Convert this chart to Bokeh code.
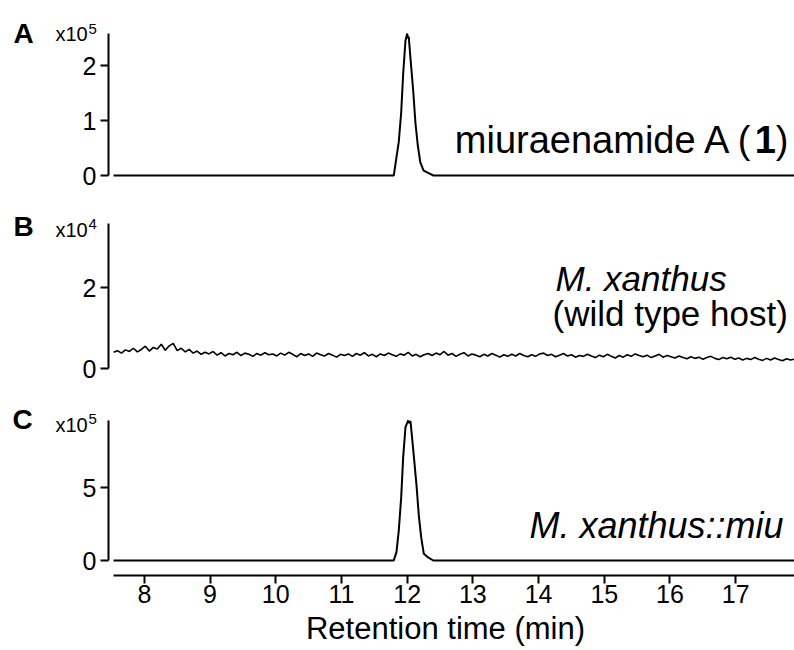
import numpy as np
from bokeh.plotting import figure
from bokeh.models import Label, FixedTicker, Range1d, LinearAxis
from bokeh.embed import file_html
from bokeh.resources import INLINE

# ---------------- data ----------------
# Panel A: miuraenamide A standard, intensity in units of 1e5
time_a = [7.53, 11.796, 11.822, 11.872, 11.909, 11.939, 11.974, 12.0, 12.012, 12.024,
          12.05, 12.091, 12.126, 12.161, 12.2, 12.25, 12.35, 12.40, 17.895]
int_a = [0, 0, 0.21, 0.61, 1.15, 1.85, 2.45, 2.58, 2.50, 2.52,
         2.13, 1.55, 0.95, 0.55, 0.24, 0.09, 0.03, 0, 0]

# Panel B: M. xanthus wild type host, intensity in units of 1e4 (noise trace)
noise_b = [0.40, 0.44, 0.38, 0.46, 0.42, 0.50, 0.41, 0.47, 0.55, 0.43, 0.52, 0.48, 0.60, 0.45, 0.56, 0.62, 0.44, 0.50, 0.41, 0.47,
           0.38, 0.43, 0.35, 0.40, 0.36, 0.42, 0.33, 0.39, 0.31, 0.37, 0.34, 0.40, 0.32, 0.38, 0.35, 0.30, 0.37, 0.33, 0.39, 0.34,
           0.36, 0.31, 0.38, 0.33, 0.40, 0.35, 0.29, 0.37, 0.32, 0.36, 0.30, 0.38, 0.34, 0.31, 0.37, 0.33, 0.28, 0.35, 0.32, 0.36,
           0.30, 0.37, 0.33, 0.39, 0.31, 0.35, 0.29, 0.36, 0.32, 0.38, 0.34, 0.30, 0.36, 0.33, 0.40, 0.31, 0.35, 0.29, 0.34, 0.37,
           0.32, 0.38, 0.34, 0.42, 0.33, 0.37, 0.30, 0.35, 0.39, 0.31, 0.36, 0.33, 0.29, 0.35, 0.31, 0.37, 0.33, 0.28, 0.34, 0.30,
           0.35, 0.31, 0.37, 0.32, 0.29, 0.34, 0.30, 0.36, 0.38, 0.32, 0.35, 0.29, 0.33, 0.37, 0.31, 0.34, 0.28, 0.32, 0.30, 0.35,
           0.31, 0.27, 0.33, 0.29, 0.35, 0.30, 0.26, 0.32, 0.28, 0.34, 0.30, 0.36, 0.32, 0.29, 0.33, 0.27, 0.31, 0.35, 0.28, 0.32,
           0.29, 0.26, 0.31, 0.27, 0.24, 0.29, 0.25, 0.28, 0.23, 0.27, 0.30, 0.25, 0.22, 0.27, 0.24, 0.28, 0.23, 0.26, 0.21, 0.25,
           0.22, 0.27, 0.23, 0.20, 0.25, 0.21, 0.26, 0.22, 0.19, 0.24, 0.21, 0.23]
time_b_first, time_b_last = 7.53, 17.895

# Panel C: M. xanthus::miu, intensity in units of 1e5
time_c = [7.53, 11.796, 11.837, 11.872, 11.909, 11.939, 11.974, 12.015, 12.03, 12.05,
          12.091, 12.142, 12.177, 12.213, 12.253, 12.314, 12.396, 17.895]
int_c = [0, 0, 0.57, 2.05, 4.34, 7.08, 9.13, 9.59, 9.40, 9.55,
         7.65, 5.14, 3.08, 1.60, 0.46, 0.23, 0, 0]

x_ticks = [8, 9, 10, 11, 12, 13, 14, 15, 16, 17]
ticks_a = [0, 1, 2]
ticks_b = [0, 2]
ticks_c = [0, 5]
axis_max_a, axis_max_b, axis_max_c = 2.58, 3.58, 9.59
x_start, x_end = 7.454, 17.895       # time at the y axes / at the right edge
x_axis_first = 7.53
x_label = "Retention time (min)"

# ---------------- layout geometry (pixels) ----------------
W, H = 794, 650
FONT = "Liberation Sans"
AXIS_PX = 108
PX_PER_MIN = (W - AXIS_PX) / (x_end - x_start)
# panel: (pixel row of zero, pixels per unit)
ZA, PA = 175, 55.0
ZB, PB = 368, 40.5
ZC, PC = 560, 14.6
X_AXIS_PY = 575


def xd(px):
    return x_start + (px - AXIS_PX) / PX_PER_MIN


def yrange(z, ppu):
    return Range1d((z - H) / ppu, z / ppu)


p = figure(width=W, height=H, min_border=0,
           x_range=Range1d(xd(0), xd(W)), y_range=yrange(ZC, PC),
           x_axis_location=None, y_axis_location=None,
           output_backend="svg", toolbar_location=None)
p.extra_y_ranges = {"a": yrange(ZA, PA), "b": yrange(ZB, PB)}
p.grid.visible = False
p.outline_line_color = None
p.background_fill_color = "white"
p.border_fill_color = "white"


def style_axis(ax):
    ax.axis_line_width = 2
    ax.axis_line_color = "black"
    ax.major_tick_line_width = 2
    ax.major_tick_line_color = "black"
    ax.major_tick_out = 8
    ax.major_tick_in = 0
    ax.minor_tick_line_color = None
    ax.major_label_text_font = FONT
    ax.major_label_text_font_size = "25px"
    ax.major_label_text_color = "black"


for name, ticks, top in (("a", ticks_a, axis_max_a), ("b", ticks_b, axis_max_b), ("default", ticks_c, axis_max_c)):
    ya = LinearAxis(y_range_name=name, ticker=FixedTicker(ticks=ticks), bounds=(0, top),
                    fixed_location=x_start)
    style_axis(ya)
    ya.major_label_standoff = 4
    p.add_layout(ya, "left")

xa = LinearAxis(ticker=FixedTicker(ticks=x_ticks), bounds=(x_axis_first, x_end),
                fixed_location=(ZC - X_AXIS_PY) / PC)
style_axis(xa)
xa.major_label_standoff = 1
p.add_layout(xa, "below")

# traces
p.line(time_a, int_a, line_color="black", line_width=2, y_range_name="a")
time_b = np.linspace(time_b_first, time_b_last, len(noise_b))
p.line(time_b, noise_b, line_color="black", line_width=1.6, y_range_name="b")
p.line(time_c, int_c, line_color="black", line_width=2)


def lab(text, px, py, z, ppu, rng, size, style="normal", align="left"):
    # py is the wanted baseline row; the label is anchored at its middle
    ymid = py - 0.33 * size
    p.add_layout(Label(x=xd(px), y=(z - ymid) / ppu, y_range_name=rng, text=text,
                       text_font=FONT, text_font_size=f"{size}px",
                       text_font_style=style, text_align=align,
                       text_baseline="middle", text_color="black"))


# panel A
annA = 38
lab("A", 13, 42, ZA, PA, "a", 28, "bold")
lab("x10", 55, 40.5, ZA, PA, "a", 20)
lab("5", 88, 33, ZA, PA, "a", 15)
lab(")", 788, 152, ZA, PA, "a", annA, "normal", "right")
lab("1", 788 - 0.333 * annA, 152, ZA, PA, "a", annA, "bold", "right")
lab("miuraenamide A (", 788 - 0.889 * annA, 152, ZA, PA, "a", annA, "normal", "right")
# panel B
annB = 35
lab("B", 13, 235, ZB, PB, "b", 28, "bold")
lab("x10", 55, 236.5, ZB, PB, "b", 20)
lab("4", 88, 228, ZB, PB, "b", 15)
lab("M. xanthus", 555, 290, ZB, PB, "b", annB, "italic")
lab("(wild type host)", 552, 325, ZB, PB, "b", annB)
# panel C
annC = 36
lab("C", 12, 428, ZC, PC, "default", 28, "bold")
lab("x10", 55, 431, ZC, PC, "default", 20)
lab("5", 88, 423, ZC, PC, "default", 15)
lab("M. xanthus::miu", 783, 537, ZC, PC, "default", annC, "italic", "right")
# x axis title
lab(x_label, 445, 638, ZC, PC, "default", 31, "normal", "center")

open("out.html", "w").write(file_html(p, INLINE))
